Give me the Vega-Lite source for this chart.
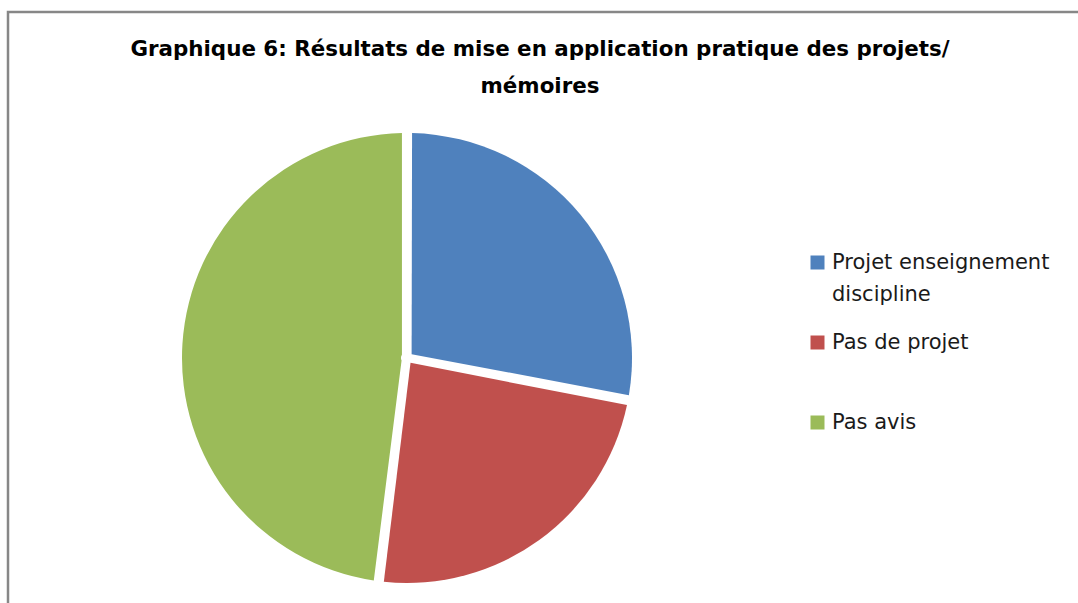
{
  "$schema": "https://vega.github.io/schema/vega-lite/v6.json",
  "width": 1072,
  "height": 593,
  "autosize": {"type": "none"},
  "padding": {"left": 8, "top": 12, "right": -2, "bottom": -2},
  "background": "white",
  "config": {
    "view": {"stroke": "#878787", "strokeWidth": 2.5},
    "style": {
      "view": {"stroke": "#878787", "strokeWidth": 2.5},
      "cell": {"stroke": "#878787", "strokeWidth": 2.5},
      "guide-label": {"lineHeight": 32}
    },
    "font": "DejaVu Sans"
  },
  "title": {
    "text": ["Graphique 6: Résultats de mise en application pratique des projets/", "mémoires"],
    "font": "DejaVu Sans",
    "fontSize": 21.4,
    "fontWeight": "bold",
    "color": "#000000",
    "lineHeight": 37,
    "anchor": "middle",
    "frame": "group",
    "baseline": "top",
    "offset": -85,
    "dx": -4
  },
  "data": {
    "values": [
      {"categorie": "Projet enseignement discipline", "pourcentage": 28, "ordre": 1},
      {"categorie": "Pas de projet", "pourcentage": 24, "ordre": 2},
      {"categorie": "Pas avis", "pourcentage": 48, "ordre": 3}
    ]
  },
  "mark": {
    "type": "arc",
    "x": 399,
    "y": 346,
    "outerRadius": 225,
    "innerRadius": 6,
    "padAngle": 0.045
  },
  "encoding": {
    "theta": {"field": "pourcentage", "type": "quantitative", "stack": true},
    "order": {"field": "ordre", "type": "quantitative"},
    "color": {
      "field": "categorie",
      "type": "nominal",
      "scale": {
        "domain": ["Projet enseignement discipline", "Pas de projet", "Pas avis"],
        "range": ["#4F81BD", "#C0504D", "#9BBB59"]
      },
      "legend": {
        "title": null,
        "orient": "none",
        "legendX": 799,
        "legendY": 240,
        "padding": 0,
        "gridAlign": "all",
        "symbolType": "square",
        "symbolSize": 196,
        "symbolStrokeWidth": 0,
        "labelFont": "DejaVu Sans",
        "labelFontSize": 21,
        "labelColor": "#1a1a1a",
        "labelOffset": 4,
        "labelLimit": 400,
        "rowPadding": 26,
        "labelExpr": "datum.label == 'Projet enseignement discipline' ? ['Projet enseignement', 'discipline'] : datum.label"
      }
    }
  }
}
